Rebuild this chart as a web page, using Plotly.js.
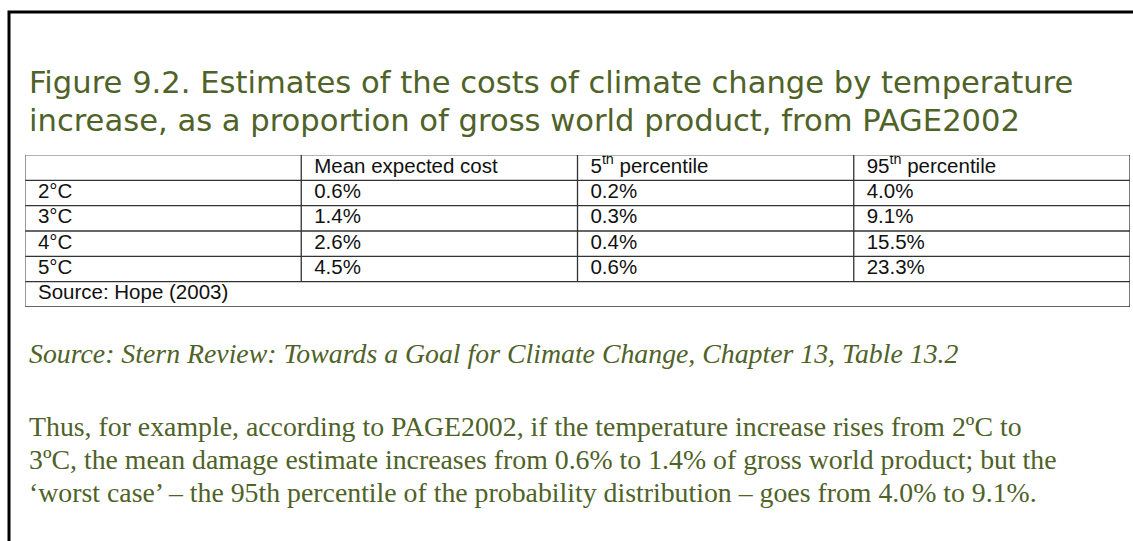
<!DOCTYPE html>
<html>
<head>
<meta charset="utf-8">
<script src="https://cdn.plot.ly/plotly-3.0.1.min.js"></script>
<style>
  html, body { margin: 0; padding: 0; background: #fff; }
  #chart { width: 1133px; height: 541px; }
</style>
</head>
<body>
<div id="chart"></div>
<script>
// table data, PAGE2002 (Hope 2003)
const temps = ['2°C', '3°C', '4°C', '5°C'];
const meanCost = [0.6, 1.4, 2.6, 4.5];
const pct5 = [0.2, 0.3, 0.4, 0.6];
const pct95 = [4.0, 9.1, 15.5, 23.3];
const headers = ['', 'Mean expected cost', '5<sup>th</sup> percentile', '95<sup>th</sup> percentile'];
const tableSource = 'Source: Hope (2003)';

const W = 1133, H = 541;
const green = '#4F6228';
const fmt = v => v.toFixed(1) + '%';

// pixel -> paper helpers (for the text blocks around the table)
const px = x => x / W;
const py = y => 1 - y / H;

// table sits on a hidden axis pair: x = column index, y = row index (0 = header)
const tableLeft = 25, tableRight = 1130, tableTop = 155, tableBottom = 307;
const nCols = headers.length;
const nRows = temps.length + 2;   // header + data rows + source row
const pad = 0.047;                // left padding inside a cell, in column units
const cellFont = {family: 'Liberation Sans, Arial, sans-serif', size: 20.5, color: '#111'};

const columns = [temps, meanCost.map(fmt), pct5.map(fmt), pct95.map(fmt)];

const data = [];
// header row (first header cell is empty)
const headIdx = headers.map((h, i) => i).filter(i => headers[i] !== '');
data.push({
    type: 'scatter', mode: 'text',
    x: headIdx.map(i => i + pad),
    y: headIdx.map(() => 0.5),
    text: headIdx.map(i => headers[i]),
    textposition: 'middle right',
    textfont: cellFont,
    hoverinfo: 'skip'
});
// body columns
columns.forEach((col, ci) => {
    data.push({
        type: 'scatter', mode: 'text',
        x: col.map(() => ci + pad),
        y: col.map((v, ri) => ri + 1.5),
        text: col,
        textposition: 'middle right',
        textfont: cellFont,
        hoverinfo: 'skip'
    });
});
// merged source row
data.push({
    type: 'scatter', mode: 'text',
    x: [pad], y: [nRows - 0.5],
    text: [tableSource],
    textposition: 'middle right',
    textfont: cellFont,
    hoverinfo: 'skip'
});

// grid lines of the table, in axis units
const shapes = [];
const dark = '#333', light = '#9a9a9a';
for (let r = 0; r <= nRows; r++) {
    shapes.push({type: 'line', xref: 'x', yref: 'y', x0: 0, x1: nCols, y0: r, y1: r,
        line: {color: r === 0 ? light : dark, width: 1.3}});
}
for (let c = 0; c <= nCols; c++) {
    const inner = c > 0 && c < nCols;
    shapes.push({type: 'line', xref: 'x', yref: 'y', x0: c, x1: c, y0: 0, y1: inner ? nRows - 1 : nRows,
        line: {color: c === 0 ? '#666' : dark, width: 1.3}});
}
// outer frame of the figure
shapes.push({
    type: 'rect', xref: 'paper', yref: 'paper',
    x0: px(9), x1: 1.05, y0: -0.05, y1: py(12),
    line: {color: '#000', width: 3}
});

const textX = px(27);
const line = (text, y, font) => ({
    xref: 'paper', yref: 'paper', x: textX, y: py(y),
    xanchor: 'left', yanchor: 'middle', showarrow: false,
    text: text, font: font
});
const titleFont = {family: 'DejaVu Sans, sans-serif', size: 30.6, color: green};
const bodyFont = {family: 'Liberation Serif, Times New Roman, serif', size: 27.8, color: green};

const hidden = {visible: false, showgrid: false, zeroline: false, fixedrange: true};

const layout = {
    width: W,
    height: H,
    margin: {l: 0, r: 0, t: 0, b: 0},
    paper_bgcolor: '#fff',
    plot_bgcolor: 'rgba(0,0,0,0)',
    showlegend: false,
    xaxis: Object.assign({range: [0, nCols], domain: [px(tableLeft), px(tableRight)]}, hidden),
    yaxis: Object.assign({range: [nRows, 0], domain: [py(tableBottom), py(tableTop)]}, hidden),
    annotations: [
        line('Figure 9.2. Estimates of the costs of climate change by temperature', 83, titleFont),
        line('increase, as a proportion of gross world product, from PAGE2002', 120, titleFont),
        line('<i>Source: Stern Review: Towards a Goal for Climate Change, Chapter 13, Table 13.2</i>', 353, bodyFont),
        line('Thus, for example, according to PAGE2002, if the temperature increase rises from 2ºC to', 426, bodyFont),
        line('3ºC, the mean damage estimate increases from 0.6% to 1.4% of gross world product; but the', 459, bodyFont),
        line('‘worst case’ – the 95th percentile of the probability distribution – goes from 4.0% to 9.1%.', 492, bodyFont)
    ],
    shapes: shapes
};

Plotly.newPlot('chart', data, layout, {displayModeBar: false, staticPlot: true});
</script>
</body>
</html>
